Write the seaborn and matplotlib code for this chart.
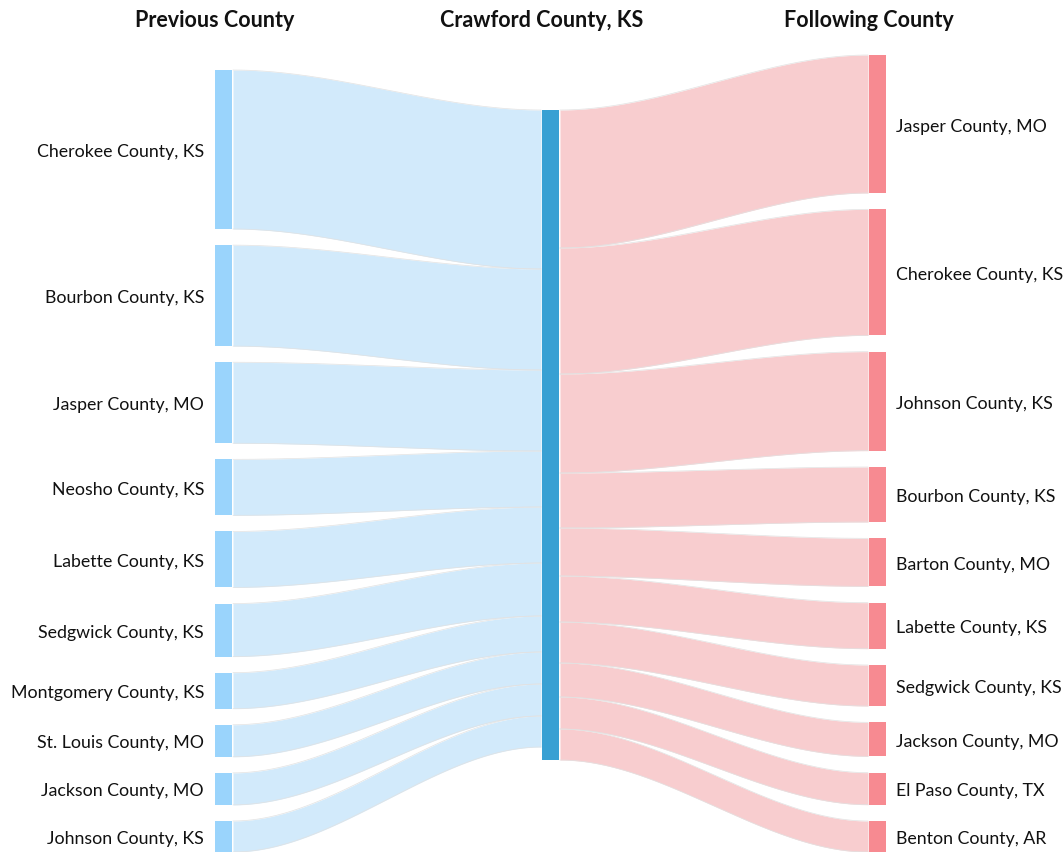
import numpy as np
import matplotlib
matplotlib.use("Agg")
import matplotlib.pyplot as plt
import seaborn as sns

# Data: county flows into / out of Crawford County, KS
prev_counties = ["Cherokee County, KS", "Bourbon County, KS", "Jasper County, MO",
                 "Neosho County, KS", "Labette County, KS", "Sedgwick County, KS",
                 "Montgomery County, KS", "St. Louis County, MO", "Jackson County, MO",
                 "Johnson County, KS"]
prev_values = [159, 101, 81, 56, 56, 53, 36, 32, 32, 31]

next_counties = ["Jasper County, MO", "Cherokee County, KS", "Johnson County, KS",
                 "Bourbon County, KS", "Barton County, MO", "Labette County, KS",
                 "Sedgwick County, KS", "Jackson County, MO", "El Paso County, TX",
                 "Benton County, AR"]
next_values = [138, 126, 99, 55, 48, 46, 41, 34, 32, 31]

column_titles = ["Previous County", "Crawford County, KS", "Following County"]

sns.set_theme(style="white")
plt.rcParams['font.family'] = ['Lato', 'DejaVu Sans']

W, H = 1064, 853
fig = plt.figure(figsize=(W / 100, H / 100), dpi=100)
ax = fig.add_axes([0, 0, 1, 1])
ax.set_xlim(0, W)
ax.set_ylim(H, 0)
ax.axis("off")

node_w = 17
x_left, x_mid, x_right = 215, 542, 869
bottom = 853

left_node_c = "#9ad4fc"
left_flow_c = "#d2eafb"
mid_node_c = "#38a0d3"
right_node_c = "#f78a91"
right_flow_c = "#f8cdcf"
edge_c = "#e2e2e2"


def stack(values, top):
    pad = (bottom - top - sum(values)) / (len(values) - 1)
    ys, y = [], top
    for v in values:
        ys.append((y, y + v))
        y += v + pad
    return ys


left_pos = stack(prev_values, 71)
right_pos = stack(next_values, 56)
mid_top = 111
mid_h = max(sum(prev_values), sum(next_values))


def flow(x0, x1, a0, a1, b0, b1, color):
    xs = np.linspace(x0, x1, 200)
    t = (xs - x0) / (x1 - x0)
    s = 3 * t ** 2 - 2 * t ** 3
    top = a0 + (b0 - a0) * s
    bot = a1 + (b1 - a1) * s
    ax.fill_between(xs, top, bot, color=color, linewidth=0, zorder=1)
    ax.plot(xs, top, color=edge_c, lw=0.5, zorder=1.5)
    ax.plot(xs, bot, color=edge_c, lw=0.5, zorder=1.5)


# left flows
y = mid_top
for (a0, a1), v in zip(left_pos, prev_values):
    flow(x_left + node_w + 1, x_mid - 1, a0, a1, y, y + v, left_flow_c)
    y += v

# right flows
y = mid_top
for (b0, b1), v in zip(right_pos, next_values):
    flow(x_mid + node_w + 1, x_right - 1, y, y + v, b0, b1, right_flow_c)
    y += v

# nodes
for (a0, a1), name in zip(left_pos, prev_counties):
    ax.add_patch(plt.Rectangle((x_left, a0), node_w, a1 - a0, color=left_node_c, lw=0, zorder=2))
    ax.text(x_left - 11, (a0 + a1) / 2, name, ha="right", va="center_baseline",
            fontsize=12.8, color="#111111")

for (b0, b1), name in zip(right_pos, next_counties):
    ax.add_patch(plt.Rectangle((x_right, b0), node_w, b1 - b0, color=right_node_c, lw=0, zorder=2))
    ax.text(x_right + node_w + 10, (b0 + b1) / 2, name, ha="left", va="center_baseline",
            fontsize=12.8, color="#111111")

ax.add_patch(plt.Rectangle((x_mid, mid_top), node_w, mid_h, color=mid_node_c, lw=0, zorder=2))

# column titles
for xc, title in zip([x_left, x_mid, x_right], column_titles):
    ax.text(xc, 20, title, ha="center", va="center", fontsize=15.5, fontweight="bold", color="#111111")

fig.savefig("out.png", dpi=100)
